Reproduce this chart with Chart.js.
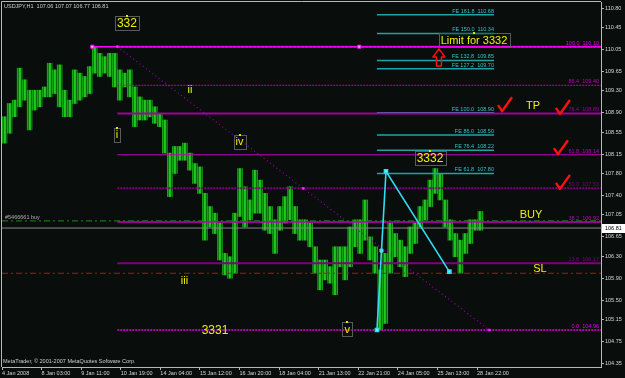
<!DOCTYPE html>
<html>
<head>
<meta charset="utf-8">
<script src="https://cdn.jsdelivr.net/npm/chart.js@4.4.0/dist/chart.umd.min.js"></script>
<style>
  html, body { margin: 0; padding: 0; background: #090d0b; }
  #wrap { width: 625px; height: 378px; position: relative; }
</style>
</head>
<body>
<div id="wrap"><canvas id="chart"></canvas></div>
<script>
// time axis: one tick every 32 hourly bars
const timeLabels = ['4 Jan 2008', '8 Jan 03:00', '9 Jan 11:00', '10 Jan 19:00', '14 Jan 04:00',
  '15 Jan 12:00', '16 Jan 20:00', '18 Jan 04:00', '21 Jan 13:00', '22 Jan 21:00',
  '24 Jan 05:00', '25 Jan 13:00', '28 Jan 22:00'];
const priceTicks = [110.80, 110.45, 110.05, 109.65, 109.30, 108.90, 108.55, 108.15, 107.80,
  107.40, 107.05, 106.65, 106.30, 105.90, 105.50, 105.15, 104.75, 104.35];

// USDJPY H1, high / low of each block of ~4 bars
const barHigh = [108.83, 109.07, 109.13, 109.71, 109.50, 109.31, 109.31, 109.31, 109.37, 109.80,
  109.68, 109.77, 109.31, 109.13, 109.68, 109.62, 109.56, 109.74, 110.10, 109.98,
  109.92, 109.98, 109.98, 109.68, 109.62, 109.68, 109.37, 109.19, 109.13, 109.13,
  109.01, 108.89, 108.77, 108.17, 108.29, 108.29, 108.35, 108.17, 107.98, 107.92,
  107.44, 107.20, 107.08, 106.90, 106.35, 106.29, 107.08, 107.89, 107.56, 107.32,
  107.86, 107.68, 107.44, 107.20, 106.96, 107.20, 107.38, 107.56, 107.20, 106.96,
  106.96, 106.90, 106.47, 106.23, 106.23, 106.11, 106.47, 106.47, 106.47, 106.83,
  106.96, 106.96, 107.32, 106.65, 106.47, 106.05, 106.35, 106.90, 106.71, 106.59,
  106.47, 106.83, 106.90, 107.20, 107.32, 107.68, 107.89, 107.80, 107.32, 106.96,
  106.71, 106.59, 106.71, 106.96, 106.96, 107.11];
const barLow = [108.35, 108.53, 108.83, 109.01, 109.13, 108.59, 108.95, 109.01, 109.19, 109.19,
  109.25, 109.01, 108.83, 108.83, 109.07, 109.13, 109.19, 109.25, 109.62, 109.56,
  109.62, 109.56, 109.37, 109.13, 109.37, 109.19, 108.65, 108.77, 108.77, 108.83,
  108.71, 108.65, 108.17, 107.38, 107.80, 108.04, 108.04, 107.86, 107.62, 107.44,
  106.59, 106.83, 106.71, 106.23, 105.96, 105.90, 105.99, 107.02, 106.83, 106.96,
  107.08, 107.08, 106.77, 106.71, 106.35, 106.77, 106.90, 106.96, 106.71, 106.59,
  106.59, 106.47, 105.99, 105.69, 105.87, 105.81, 105.60, 106.11, 105.87, 106.11,
  106.47, 106.35, 106.59, 106.23, 105.99, 104.96, 105.08, 105.99, 106.29, 106.11,
  105.93, 106.35, 106.53, 106.83, 106.96, 107.20, 107.44, 107.32, 106.83, 106.59,
  106.29, 105.99, 106.35, 106.53, 106.77, 106.77];

// Fibonacci retracement 110.10 -> 104.96
const fibRatios = ['100.0', '86.4', '76.4', '61.8', '50.0', '38.2', '23.6', '0.0'];
const fibPrices = [110.10, 109.40, 108.89, 108.14, 107.53, 106.92, 106.17, 104.96];
// Fibonacci expansion levels
const feRatios = ['161.8', '150.0', '132.8', '127.2', '100.0', '86.0', '76.4', '61.8'];
const fePrices = [110.68, 110.34, 109.85, 109.70, 108.90, 108.50, 108.22, 107.80];

// anchors in bar index / price
const fibBars = [93.2, 393.9];
const feBars = [303.1, 397.7];
const topLineBar = 73;
const zigBars = [303.1, 310.4, 361.6];
const zigPrices = [104.96, 107.84, 106.02];
const buyPrice = 106.94;
const slPrice = 105.99;
const lastPrice = 106.81;

const noteText = ['332', 'Limit for 3332', 'TP', 'BUY', 'SL', '3332', '3331', 'i', 'ii', 'iii', 'iv', 'v'];
const noteBar = [101.0, 381.5, 429.2, 427.6, 434.9, 346.0, 172.2, 93.0, 152.0, 147.5, 192.0, 279.0];
const notePrice = [110.53, 110.22, 109.04, 107.05, 106.07, 108.08, 104.95, 108.50, 109.33, 105.85, 108.38, 104.97];
const checkBar = [404.2, 451.0, 449.4, 451.0];
const checkPrice = [108.93, 108.88, 108.15, 107.52];
const arrowBar = 353.2;
const arrowPrice = 110.06;

const X_MAX = 484.2;
const BARS_PER_BLOCK = 4.05;
const boxed = ['332', 'Limit for 3332', '3332', 'i', 'iv', 'v'];
const SMALL = '5.5px "Liberation Sans"';

const fibStyle = [
  { c: '#e600e6', w: 2, d: [3, 1] },
  { c: '#c000c0', w: 1, d: [2, 1] },
  { c: '#a000a0', w: 2, d: [] },
  { c: '#c000c0', w: 1.2, d: [] },
  { c: '#800080', w: 2, d: [2, 1] },
  { c: '#c000c0', w: 1.5, d: [] },
  { c: '#800080', w: 2, d: [] },
  { c: '#e600e6', w: 1.5, d: [2, 1] }
];

// striped green fill so the blocks read like packed hourly bars
const canvas = document.getElementById('chart');
const tile = document.createElement('canvas');
tile.width = 5; tile.height = 1;
const tctx = tile.getContext('2d');
['#1cbc1c', '#0a6a0a', '#14a414', '#0c7c0c', '#22c822'].forEach((col, i) => {
  tctx.fillStyle = col;
  tctx.fillRect(i, 0, 1, 1);
});
const barFill = canvas.getContext('2d').createPattern(tile, 'repeat');

function hLine(x0, x1, y, color, width, dash) {
  return {
    type: 'line', data: [{ x: x0, y: y }, { x: x1, y: y }],
    borderColor: color, borderWidth: width, borderDash: dash || [],
    pointRadius: 0, order: 1
  };
}

const datasets = [];
// fib levels
fibPrices.forEach((p, i) => {
  datasets.push(hLine(fibBars[0], X_MAX, p, fibStyle[i].c, fibStyle[i].w, fibStyle[i].d));
});
datasets.push(hLine(topLineBar, X_MAX, fibPrices[0], '#ff00ff', 1.5));
// expansion levels
fePrices.forEach(p => datasets.push(hLine(feBars[0], feBars[1], p, '#1fa4a4', 1.5)));
// order lines
datasets.push(hLine(0, X_MAX, lastPrice, '#8a8a8a', 1));
datasets.push(hLine(0, X_MAX, buyPrice, '#1c8a1c', 1, [6, 3, 2, 3]));
datasets.push(hLine(0, X_MAX, slPrice, '#b01818', 1, [6, 3, 2, 3]));
// diagonal of the retracement tool
datasets.push({
  type: 'line', data: [{ x: fibBars[0], y: fibPrices[0] }, { x: fibBars[1], y: fibPrices[7] }],
  borderColor: '#9a00b0', borderWidth: 1.2, borderDash: [1, 3], pointRadius: 0, order: 1
});
// wave A-B-C
datasets.push({
  type: 'line', data: zigBars.map((b, i) => ({ x: b, y: zigPrices[i] })),
  borderColor: '#30dcf0', borderWidth: 1.6, pointRadius: 2.2, pointStyle: 'rect',
  pointBackgroundColor: '#b0f4ff', pointBorderColor: '#30dcf0', order: 0
});
datasets.push({
  type: 'scatter', data: [{ x: (zigBars[0] + zigBars[1]) / 2, y: (zigPrices[0] + zigPrices[1]) / 2 }],
  pointRadius: 2.2, pointStyle: 'rect', backgroundColor: '#b0f4ff', borderColor: '#30dcf0', order: 0
});
// magenta handles
datasets.push({
  type: 'scatter',
  data: [{ x: topLineBar, y: fibPrices[0] }, { x: 288.8, y: fibPrices[0] }],
  pointRadius: 2.2, pointStyle: 'rect', backgroundColor: '#ffb0ff', borderColor: '#ff00ff', order: 0
});
datasets.push({
  type: 'scatter',
  data: [{ x: fibBars[0], y: fibPrices[0] }, { x: (fibBars[0] + fibBars[1]) / 2, y: fibPrices[4] },
         { x: fibBars[1], y: fibPrices[7] }],
  pointRadius: 1.3, pointStyle: 'rect', backgroundColor: '#ff80ff', borderColor: '#ff00ff', order: 0
});
// price bars
datasets.push({
  type: 'bar',
  data: barHigh.map((h, i) => ({ x: i * BARS_PER_BLOCK + BARS_PER_BLOCK / 2, y: [barLow[i], h] })),
  backgroundColor: barFill, barThickness: 5, order: 10
});

const overlay = {
  id: 'overlay',
  beforeDraw(chart) {
    const c = chart.ctx;
    c.save();
    c.fillStyle = '#090d0b';
    c.fillRect(0, 0, chart.width, chart.height);
    c.restore();
  },
  afterDatasetsDraw(chart) {
    const c = chart.ctx, xs = chart.scales.x, ys = chart.scales.y, a = chart.chartArea;
    c.save();
    // frame top / left
    c.strokeStyle = '#b8b8b8';
    c.lineWidth = 1;
    c.beginPath();
    c.moveTo(a.left - 0.5, a.bottom); c.lineTo(a.left - 0.5, a.top - 0.5); c.lineTo(a.right, a.top - 0.5);
    c.stroke();

    c.font = SMALL;
    c.textBaseline = 'alphabetic';
    // fib labels
    c.textAlign = 'right';
    fibPrices.forEach((p, i) => {
      c.fillStyle = fibStyle[i].c;
      c.fillText(fibRatios[i] + '  ' + p.toFixed(2), a.right - 2, ys.getPixelForValue(p) - 2);
    });
    // expansion labels
    c.fillStyle = '#34c6c6';
    fePrices.forEach((p, i) => {
      c.fillText('FE ' + feRatios[i] + '  ' + p.toFixed(2), xs.getPixelForValue(feBars[1]), ys.getPixelForValue(p) - 2);
    });
    // chart captions
    c.textAlign = 'left';
    c.fillStyle = '#d0d0d0';
    c.fillText('USDJPY,H1  107.06 107.07 106.77 106.81', a.left + 2, a.top + 6);
    c.fillText('MetaTrader, \u00a9 2001-2007 MetaQuotes Software Corp.', a.left + 1, a.bottom - 4);
    c.fillStyle = '#b0b0b0';
    c.fillText('#5466661 buy', a.left + 3, ys.getPixelForValue(buyPrice) - 2);

    // yellow notes
    noteText.forEach((t, i) => {
      const x = xs.getPixelForValue(noteBar[i]), y = ys.getPixelForValue(notePrice[i]);
      c.font = (/^\d+$/.test(t) ? '12px' : '11px') + ' "Liberation Sans"';
      c.textAlign = 'center';
      c.textBaseline = 'middle';
      const w = c.measureText(t).width;
      if (boxed.includes(t)) {
        c.strokeStyle = '#5a5a5a';
        c.lineWidth = 1;
        c.strokeRect(Math.round(x - w / 2 - 2) + 0.5, Math.round(y - 7) + 0.5, Math.round(w + 4), 14);
        c.fillStyle = '#e6e600';
        c.fillRect(Math.round(x) - 1, Math.round(y - 8), 2, 2);
      }
      c.fillStyle = '#f0f000';
      c.fillText(t, x, y + 0.5);
    });

    // red ticks
    c.strokeStyle = '#ff1010';
    c.lineWidth = 2.4;
    c.lineJoin = 'round';
    checkBar.forEach((b, i) => {
      const x = xs.getPixelForValue(b), y = ys.getPixelForValue(checkPrice[i]);
      c.beginPath();
      c.moveTo(x - 4, y - 6); c.lineTo(x, y); c.lineTo(x + 10, y - 14);
      c.stroke();
    });
    // hollow up arrow
    const ax = xs.getPixelForValue(arrowBar), ay = ys.getPixelForValue(arrowPrice);
    c.lineWidth = 1.5;
    c.beginPath();
    c.moveTo(ax, ay); c.lineTo(ax + 6, ay + 8); c.lineTo(ax + 2.5, ay + 8); c.lineTo(ax + 2.5, ay + 17);
    c.lineTo(ax - 2.5, ay + 17); c.lineTo(ax - 2.5, ay + 8); c.lineTo(ax - 6, ay + 8); c.closePath();
    c.stroke();
    c.restore();
  },
  afterDraw(chart) {
    const c = chart.ctx, ys = chart.scales.y, a = chart.chartArea;
    const y = ys.getPixelForValue(lastPrice);
    c.save();
    c.fillStyle = '#ffffff';
    c.fillRect(a.right + 1, Math.round(y) - 4, 23, 9);
    c.fillStyle = '#000000';
    c.font = SMALL;
    c.textAlign = 'left';
    c.textBaseline = 'middle';
    c.fillText(lastPrice.toFixed(2), a.right + 4, y + 0.5);
    c.restore();
  }
};

new Chart(canvas, {
  type: 'bar',
  data: { datasets: datasets },
  plugins: [overlay],
  options: {
    responsive: true,
    maintainAspectRatio: false,
    animation: false,
    devicePixelRatio: 1,
    layout: { autoPadding: false, padding: { top: 2, left: 2, right: 0, bottom: 0 } },
    plugins: { legend: { display: false }, tooltip: { enabled: false } },
    scales: {
      x: {
        type: 'linear', position: 'bottom', min: 0, max: X_MAX, offset: false,
        grid: { drawOnChartArea: false, tickLength: 3, color: '#b8b8b8', offset: false },
        border: { color: '#b8b8b8' },
        afterBuildTicks: axis => { axis.ticks = timeLabels.map((t, i) => ({ value: i * 32 })); },
        afterFit: axis => { axis.height = 11; axis.paddingLeft = 0; axis.paddingRight = 0; },
        ticks: {
          align: 'start', autoSkip: false, maxRotation: 0, padding: 0,
          color: '#d8d8d8', font: { family: 'Liberation Sans', size: 5.5 },
          callback: v => timeLabels[Math.round(v / 32)]
        }
      },
      y: {
        type: 'linear', position: 'right', min: 104.289, max: 110.911,
        grid: { drawOnChartArea: false, tickLength: 3, color: '#b8b8b8' },
        border: { color: '#b8b8b8' },
        afterBuildTicks: axis => { axis.ticks = priceTicks.map(v => ({ value: v })); },
        afterFit: axis => { axis.width = 24; axis.paddingTop = 0; axis.paddingBottom = 0; },
        ticks: {
          autoSkip: false, padding: 1,
          color: '#d8d8d8', font: { family: 'Liberation Sans', size: 5.5 },
          callback: v => Number(v).toFixed(2)
        }
      }
    }
  }
});
</script>
</body>
</html>
